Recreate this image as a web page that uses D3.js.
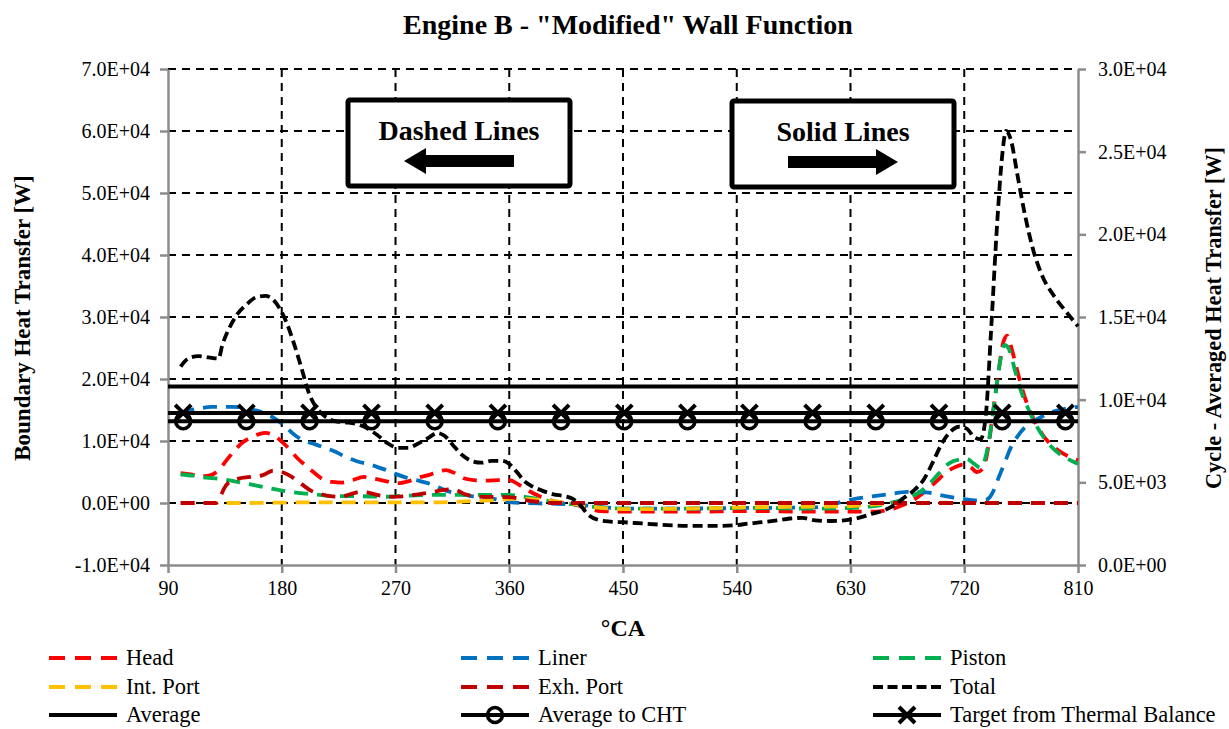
<!DOCTYPE html>
<html>
<head>
<meta charset="utf-8">
<script src="https://cdn.jsdelivr.net/npm/d3@7"></script>
<style>
body { margin: 0; background: #fff; }
</style>
</head>
<body>
<div id="chart"></div>
<script>
// crank angle ticks and axis tick values
var xTicks = [90, 180, 270, 360, 450, 540, 630, 720, 810];
var leftTicks = [-10000, 0, 10000, 20000, 30000, 40000, 50000, 60000, 70000];
var rightTicks = [0, 5000, 10000, 15000, 20000, 25000, 30000];

// boundary heat transfer [W], pairs of [°CA, W]  (left axis, dashed)
var head = [[100,4800],[108,4600],[116,4300],[124,4500],[130,5300],[136,6800],[142,8300],[148,9600],[155,10500],[162,11100],[167,11300],[173,11000],[180,9900],[186,8700],[192,7300],[198,6200],[205,5000],[212,3900],[220,3400],[228,3300],[236,3700],[245,4200],[254,3900],[263,3500],[272,3200],[280,3500],[288,4100],[296,4500],[304,5100],[310,5300],[316,4900],[324,4000],[332,3700],[342,3600],[352,3700],[360,3700],[368,2900],[376,1900],[384,1100],[392,500],[400,100],[410,-200],[420,-700],[432,-1300],[450,-1400],[500,-1400],[550,-1300],[600,-1400],[630,-1400],[650,-1400],[662,-1000],[672,-300],[682,800],[690,2000],[698,3500],[706,5000],[713,5800],[719,6200],[725,5800],[730,5000],[735,5600],[739,9000],[743,15000],[747,21000],[751,26000],[754,27000],[758,24500],[763,20500],[768,17000],[775,13500],[782,11000],[790,9200],[798,8000],[805,7300],[810,6900]];
var liner = [[100,14500],[108,15000],[116,15300],[124,15500],[132,15500],[140,15500],[150,15400],[158,15000],[166,14500],[174,13700],[182,12500],[190,11000],[198,10000],[206,9500],[214,8900],[222,8300],[230,7500],[240,6700],[250,6200],[260,5500],[270,4700],[280,4000],[290,3500],[300,2900],[310,2000],[320,1500],[330,1100],[342,900],[352,500],[362,100],[372,0],[390,-100],[410,-200],[430,-600],[450,-900],[500,-900],[550,-800],[600,-700],[615,-300],[625,300],[632,600],[645,1000],[660,1400],[675,1800],[690,1700],[705,1100],[718,700],[730,400],[737,500],[742,1500],[747,4000],[752,6500],[757,9000],[762,10700],[768,12200],[775,13200],[782,14000],[790,14700],[798,15100],[805,15400],[810,15500]];
var piston = [[100,4600],[110,4400],[120,4100],[130,3900],[140,3600],[150,3200],[160,2800],[170,2400],[180,2000],[190,1700],[200,1500],[210,1300],[220,1100],[230,1100],[240,1100],[260,1000],[280,1200],[300,1300],[320,1300],[340,1300],[360,1300],[375,900],[390,400],[400,0],[415,-300],[430,-700],[450,-900],[500,-900],[550,-800],[600,-900],[630,-800],[645,-600],[655,-300],[665,200],[675,800],[685,1800],[693,3200],[700,4800],[708,6400],[716,7000],[722,7100],[728,6300],[733,5700],[737,7500],[741,12000],[745,18000],[749,23500],[752,25500],[756,24500],[760,21500],[765,18000],[770,15500],[777,12500],[785,10000],[793,8300],[800,7300],[806,6700],[810,6300]];
var intPort = [[100,0],[150,0],[200,100],[250,100],[300,100],[330,300],[350,500],[365,700],[380,600],[395,300],[410,-100],[425,-600],[440,-900],[460,-1000],[500,-900],[550,-700],[600,-600],[630,-500],[650,-200],[665,0],[700,0],[750,0],[810,0]];
var exhPort = [[100,0],[115,0],[128,0],[131,800],[134,2200],[138,3300],[145,3900],[155,4200],[165,4500],[173,5200],[180,5000],[188,4200],[196,3000],[203,2000],[210,1500],[218,1100],[226,1000],[234,1400],[242,1800],[250,1600],[258,1200],[268,1000],[278,1100],[288,1400],[298,1700],[308,2100],[316,2200],[324,1500],[332,1100],[342,1000],[352,1000],[362,900],[372,500],[382,200],[395,0],[450,0],[550,0],[650,0],[750,0],[810,0]];
var total = [[100,22000],[106,23300],[114,23700],[122,23500],[130,23300],[133,25500],[138,28000],[145,30500],[152,32000],[160,33200],[167,33400],[172,33000],[178,31500],[184,29000],[190,25500],[196,21500],[201,18000],[207,15500],[214,14000],[222,13200],[230,13000],[238,12800],[248,12000],[256,10900],[264,9600],[272,8900],[280,8900],[288,9600],[296,10500],[303,11300],[309,10800],[316,9200],[323,7700],[330,6800],[338,6500],[346,6800],[354,6800],[360,6300],[366,5000],[372,3500],[378,2700],[386,2000],[395,1400],[404,1100],[410,700],[416,-300],[422,-1800],[430,-2700],[440,-3000],[450,-3100],[465,-3300],[480,-3500],[500,-3700],[520,-3700],[538,-3600],[550,-3300],[560,-3100],[572,-2800],[582,-2500],[592,-2400],[602,-2800],[614,-2900],[625,-2800],[632,-2600],[640,-2200],[648,-1700],[655,-1300],[665,-300],[672,800],[680,2000],[688,3800],[695,6500],[702,9500],[709,11500],[716,12300],[722,12000],[728,10600],[733,10300],[737,14000],[741,27000],[746,45000],[750,56000],[753,60000],[757,58500],[762,53000],[768,46500],[775,40500],[782,36500],[790,33700],[798,31500],[804,30000],[810,28500]];

// cycle-averaged heat transfer [W] (right axis, solid)
var averageW = 10800;
var averageCHT = 8700;
var targetThermal = 9200;
var markerCA = [102, 152, 202, 251, 301, 351, 401, 451, 501, 550, 600, 650, 700, 750, 800];

var FONT = "'Liberation Serif', 'Times New Roman', serif";

var margin = {top: 69, right: 151, bottom: 164, left: 168},
width = 1229 - margin.left - margin.right,
height = 729 - margin.top - margin.bottom;

function sci(v) {
  if (v === 0) return "0.0E+00";
  var e = Math.floor(Math.log10(Math.abs(v)));
  var m = v / Math.pow(10, e);
  return m.toFixed(1) + "E+" + (e < 10 ? "0" + e : e);
}

var svg0 = d3.select("#chart")
.append("svg")
.attr("width", 1229)
.attr("height", 729);

var svg = svg0.append("g")
.attr("transform", "translate(" + margin.left + "," + margin.top + ")");

var x = d3.scaleLinear().domain([90, 810]).range([0, width]);
var yL = d3.scaleLinear().domain([-10000, 70000]).range([height, 0]);
var yR = d3.scaleLinear().domain([0, 30000]).range([height, 0]);

// gridlines
svg.selectAll(".hgrid")
.data(leftTicks.filter(function(d) { return d > -10000; }))
.enter().append("line")
.attr("x1", 0).attr("x2", width)
.attr("y1", function(d) { return yL(d); })
.attr("y2", function(d) { return yL(d); })
.attr("stroke", "#000").attr("stroke-width", 2)
.attr("stroke-dasharray", "8,6");

svg.selectAll(".vgrid")
.data(xTicks.slice(1, -1))
.enter().append("line")
.attr("y1", 0).attr("y2", height)
.attr("x1", function(d) { return x(d); })
.attr("x2", function(d) { return x(d); })
.attr("stroke", "#000").attr("stroke-width", 2)
.attr("stroke-dasharray", "8,6");

// axes
function styleAxis(g) {
  g.attr("font-family", FONT);
  g.select(".domain").attr("stroke", "#8c8c8c").attr("stroke-width", 2.5);
  g.selectAll(".tick line").attr("stroke", "#8c8c8c").attr("stroke-width", 2.5);
  g.selectAll("text").style("font-size", "20px").attr("fill", "#000");
}

svg.append("g")
.attr("transform", "translate(0," + height + ")")
.call(d3.axisBottom(x).tickValues(xTicks).tickSize(8).tickSizeOuter(0).tickPadding(8))
.call(styleAxis);

svg.append("g")
.call(d3.axisLeft(yL).tickValues(leftTicks).tickFormat(sci).tickSize(8).tickSizeOuter(0).tickPadding(10))
.call(styleAxis);

svg.append("g")
.attr("transform", "translate(" + width + ",0)")
.call(d3.axisRight(yR).tickValues(rightTicks).tickFormat(sci).tickSize(8).tickSizeOuter(0).tickPadding(12))
.call(styleAxis);

// annotation boxes
function box(x0, y0, w, h, label, dir) {
  var g = svg0.append("g");
  g.append("rect").attr("x", x0).attr("y", y0).attr("width", w).attr("height", h)
  .attr("rx", 2).attr("fill", "#fff").attr("stroke", "#000").attr("stroke-width", 5);
  g.append("text").attr("x", x0 + w / 2).attr("y", y0 + 40)
  .attr("text-anchor", "middle").style("font-size", "28px").style("font-weight", "bold")
  .text(label);
  var cx = x0 + w / 2, cy = y0 + 61, L = 110, hl = 22, sh = 6, hh = 13;
  var p;
  if (dir < 0) {
    var tip = cx - L / 2;
    p = [[tip, cy], [tip + hl, cy - hh], [tip + hl, cy - sh], [tip + L, cy - sh], [tip + L, cy + sh], [tip + hl, cy + sh], [tip + hl, cy + hh]];
  } else {
    var tip2 = cx + L / 2;
    p = [[tip2, cy], [tip2 - hl, cy - hh], [tip2 - hl, cy - sh], [tip2 - L, cy - sh], [tip2 - L, cy + sh], [tip2 - hl, cy + sh], [tip2 - hl, cy + hh]];
  }
  g.append("path").attr("d", "M" + p.join("L") + "Z").attr("fill", "#000");
}
box(348, 100, 222, 86, "Dashed Lines", -1);
box(732, 101, 222, 86, "Solid Lines", 1);

// dashed series
var series = [
  {name: "Head", data: head, color: "#ff0000", dash: "14,9", legDash: "16,10"},
  {name: "Liner", data: liner, color: "#0070c0", dash: "14,9", legDash: "16,10"},
  {name: "Piston", data: piston, color: "#00b050", dash: "14,9", legDash: "16,10"},
  {name: "Int. Port", data: intPort, color: "#ffc000", dash: "14,9", legDash: "16,10"},
  {name: "Exh. Port", data: exhPort, color: "#c00000", dash: "14,9", legDash: "16,10"},
  {name: "Total", data: total, color: "#000000", dash: "10,5", legDash: "10,4.5"}
];

var lineL = d3.line()
.x(function(d) { return x(d[0]); })
.y(function(d) { return yL(d[1]); })
.curve(d3.curveMonotoneX);

series.forEach(function(s) {
  svg.append("path")
  .datum(s.data)
  .attr("fill", "none")
  .attr("stroke", s.color)
  .attr("stroke-width", 3.8)
  .attr("stroke-dasharray", s.dash)
  .attr("d", lineL);
});

// solid averaged lines on the right axis
var solid = [
  {name: "Average", value: averageW, marker: null},
  {name: "Average to CHT", value: averageCHT, marker: "circle"},
  {name: "Target from Thermal Balance", value: targetThermal, marker: "x"}
];

function drawMarker(g, type, cx, cy) {
  if (type === "circle") {
    g.append("circle").attr("cx", cx).attr("cy", cy).attr("r", 7.5)
    .attr("fill", "none").attr("stroke", "#000").attr("stroke-width", 3.5);
  } else if (type === "x") {
    var s = 8;
    g.append("path")
    .attr("d", "M" + (cx - s) + "," + (cy - s) + "L" + (cx + s) + "," + (cy + s) +
      "M" + (cx - s) + "," + (cy + s) + "L" + (cx + s) + "," + (cy - s))
    .attr("stroke", "#000").attr("stroke-width", 4).attr("fill", "none");
  }
}

solid.forEach(function(s) {
  svg.append("line")
  .attr("x1", x(90)).attr("x2", x(810))
  .attr("y1", yR(s.value)).attr("y2", yR(s.value))
  .attr("stroke", "#000").attr("stroke-width", 4);
  if (s.marker) {
    markerCA.forEach(function(c) { drawMarker(svg, s.marker, x(c), yR(s.value)); });
  }
});

// titles
svg0.append("text")
.attr("x", 628).attr("y", 34)
.attr("text-anchor", "middle")
.style("font-size", "28px").style("font-weight", "bold")
.text('Engine B - "Modified" Wall Function');

svg0.append("text")
.attr("x", margin.left + width / 2).attr("y", 636)
.attr("text-anchor", "middle")
.style("font-size", "24px").style("font-weight", "bold")
.text("°CA");

svg0.append("text")
.attr("transform", "translate(30," + (margin.top + height / 2 + 1) + ")rotate(-90)")
.attr("text-anchor", "middle")
.style("font-size", "23px").style("font-weight", "bold")
.text("Boundary Heat Transfer [W]");

svg0.append("text")
.attr("transform", "translate(1221," + (margin.top + height / 2 + 1) + ")rotate(-90)")
.attr("text-anchor", "middle")
.style("font-size", "22.3px").style("font-weight", "bold")
.text("Cycle - Averaged Heat Transfer [W]");

// legend
var legendItems = series.map(function(s) { return {name: s.name, color: s.color, dash: s.legDash, marker: null}; })
.concat(solid.map(function(s) { return {name: s.name, color: "#000", dash: null, marker: s.marker}; }));
var colX = [49, 461, 873], rowY = [658, 687, 715];

legendItems.forEach(function(d, i) {
  var lx = colX[i % 3], ly = rowY[Math.floor(i / 3)];
  var g = svg0.append("g");
  g.append("line").attr("x1", lx).attr("x2", lx + 68).attr("y1", ly).attr("y2", ly)
  .attr("stroke", d.color).attr("stroke-width", 4.2)
  .attr("stroke-dasharray", d.dash);
  if (d.marker) drawMarker(g, d.marker, lx + 34, ly);
  g.append("text").attr("x", lx + 77).attr("y", ly + 7)
  .style("font-size", "22.5px").text(d.name);
});

svg0.selectAll("text").style("font-family", FONT).attr("fill", "#000");
</script>
</body>
</html>
